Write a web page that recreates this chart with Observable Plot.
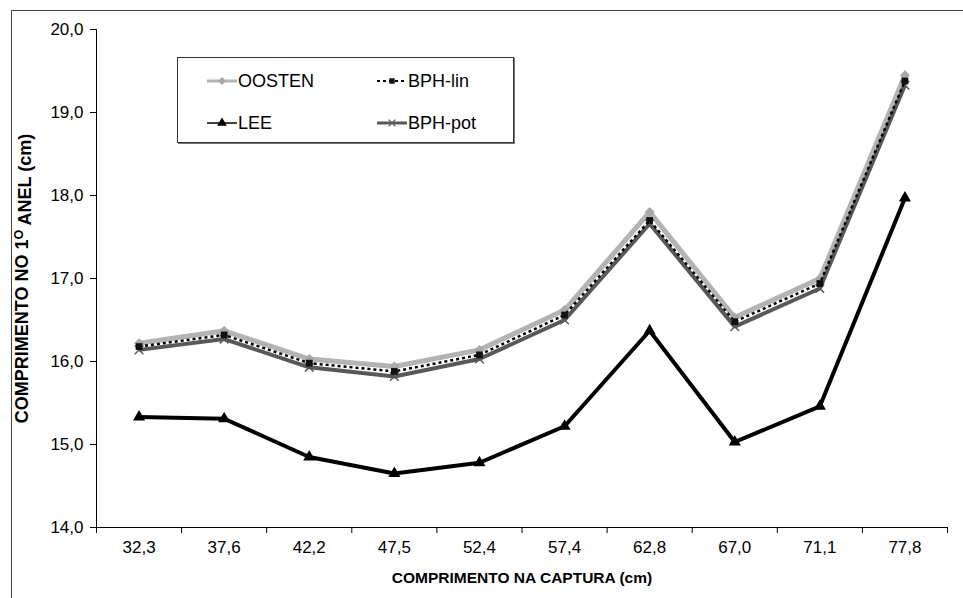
<!DOCTYPE html>
<html>
<head>
<meta charset="utf-8">
<script src="https://cdn.jsdelivr.net/npm/d3@7"></script>
<script src="https://cdn.jsdelivr.net/npm/@observablehq/plot@0.6"></script>
<style>
  html, body { margin: 0; padding: 0; background: #fff; overflow: hidden; }
  body { width: 963px; height: 598px; position: relative; font-family: "Liberation Sans", Arial, sans-serif; }
  #frame { position: absolute; left: 11px; top: 10px; width: 1000px; height: 700px;
           border-left: 1px solid #444; border-top: 1px solid #444; }
  #chart { position: absolute; left: 0; top: 0; }
  #legend { position: absolute; left: 177px; top: 57px; width: 335px; height: 84px;
            border: 1px solid #333; box-shadow: 1px 1px 0 #777; background: #fff; }
  .item { position: absolute; display: flex; align-items: center; font-size: 18px; color: #000; }
  .item svg { display: block; margin-right: 1px; }
</style>
</head>
<body>
<div id="frame"></div>
<div id="chart"></div>
<div id="legend"></div>
<script>
const categories = ["32,3","37,6","42,2","47,5","52,4","57,4","62,8","67,0","71,1","77,8"];
const oosten = [16.22, 16.37, 16.03, 15.94, 16.14, 16.62, 17.80, 16.53, 17.00, 19.45];
const bphLin = [16.18, 16.32, 15.98, 15.88, 16.08, 16.56, 17.70, 16.48, 16.94, 19.38];
const bphPot = [16.14, 16.27, 15.93, 15.82, 16.03, 16.50, 17.66, 16.42, 16.88, 19.33];
const lee    = [15.33, 15.31, 14.85, 14.65, 14.78, 15.22, 16.37, 15.03, 15.46, 17.97];
const yTicks = [14, 15, 16, 17, 18, 19, 20];
const xTitle = "COMPRIMENTO NA CAPTURA (cm)";
const yTitle = "COMPRIMENTO NO 1O ANEL (cm)";

const seriesDefs = [
  {name: "OOSTEN",  values: oosten, stroke: "#b3b3b3", width: 5,   dash: null,  symbol: "diamond2", fill: "#a8a8a8", mstroke: "none", r: 4.5, lw: 3},
  {name: "BPH-pot", values: bphPot, stroke: "#585858", width: 4,   dash: null,  symbol: "times",    fill: "none",    mstroke: "#585858", r: 4, lw: 3},
  {name: "BPH-lin", values: bphLin, stroke: "#000",    width: 2.5, dash: "3,3", symbol: "square",   fill: "#111",    mstroke: "none", r: 3.8, lw: 2},
  {name: "LEE",     values: lee,    stroke: "#000",    width: 4,   dash: null,  symbol: "triangle", fill: "#000",    mstroke: "none", r: 4.5, lw: 1.5}
];

const rows = seriesDefs.map(s => s.values.map((v, i) => ({series: s.name, x: i + 0.5, cat: categories[i], y: v})));

const marks = [
  Plot.ruleX([0], {stroke: "#000"}),
  Plot.ruleY([14], {stroke: "#000"}),
  Plot.axisY({ticks: yTicks, tickSize: 6, tickPadding: 7, fontSize: 17,
              tickFormat: d => d.toFixed(1).replace(".", ","), label: null}),
  Plot.axisX({ticks: d3.range(categories.length + 1), tickSize: 6, tickFormat: () => "", label: null}),
  Plot.axisX({ticks: categories.map((_, i) => i + 0.5), tickSize: 0, tickPadding: 13, fontSize: 17,
              tickFormat: d => categories[Math.round(d - 0.5)], label: null}),
];
seriesDefs.forEach((s, k) => {
  marks.push(Plot.line(rows[k], {x: "x", y: "y", stroke: s.stroke, strokeWidth: s.width,
                                 strokeDasharray: s.dash, strokeLinejoin: "miter", strokeLinecap: "butt"}));
  marks.push(Plot.dot(rows[k], {x: "x", y: "y", symbol: s.symbol, r: s.r, fill: s.fill,
                                stroke: s.mstroke, strokeWidth: 1.5}));
});
marks.push(Plot.text([xTitle], {frameAnchor: "bottom", dy: 55, fontWeight: "bold", fontSize: 15.5}));
marks.push(Plot.text([yTitle], {frameAnchor: "left", dx: -74, rotate: -90, textAnchor: "middle",
                                fontWeight: "bold", fontSize: 18}));

const chart = Plot.plot({
  width: 963, height: 598,
  marginLeft: 96, marginRight: 16, marginTop: 29, marginBottom: 71,
  style: {fontFamily: "'Liberation Sans', Arial, sans-serif", fontSize: "16px", background: "transparent", color: "#000"},
  x: {domain: [0, categories.length]},
  y: {domain: [14, 20]},
  marks
});
document.getElementById("chart").appendChild(chart);

// superscript O in y title
d3.select(chart).selectAll("text").filter(function() { return this.textContent === yTitle; })
  .each(function() {
    const t = d3.select(this);
    t.text(null);
    t.append("tspan").text("COMPRIMENTO NO 1");
    t.append("tspan").attr("dy", "-0.45em").attr("font-size", "0.7em").text("O");
    t.append("tspan").attr("dy", "0.45em").text(" ANEL (cm)");
  });

// legend
const legendItems = [
  {def: seriesDefs[0], left: 29, top: 23},
  {def: seriesDefs[3], left: 29, top: 65},
  {def: seriesDefs[2], left: 199, top: 23},
  {def: seriesDefs[1], left: 199, top: 65}
];
const legend = d3.select("#legend");
const symMap = {diamond2: d3.symbolDiamond2, times: d3.symbolTimes, square: d3.symbolSquare, triangle: d3.symbolTriangle};
legendItems.forEach(({def, left, top}) => {
  const it = legend.append("div").attr("class", "item").style("left", left + "px").style("top", (top - 11) + "px");
  const sv = it.append("svg").attr("width", 30).attr("height", 22);
  sv.append("line").attr("x1", 0).attr("x2", 30).attr("y1", 11).attr("y2", 11)
    .attr("stroke", def.stroke).attr("stroke-width", def.lw).attr("stroke-dasharray", def.dash);
  const rr = def.r * 0.8;
  sv.append("path").attr("transform", "translate(15,11)")
    .attr("d", d3.symbol(symMap[def.symbol], Math.PI * rr * rr)())
    .attr("fill", def.fill).attr("stroke", def.mstroke).attr("stroke-width", 1.2);
  it.append("span").text(def.name);
});
</script>
</body>
</html>
